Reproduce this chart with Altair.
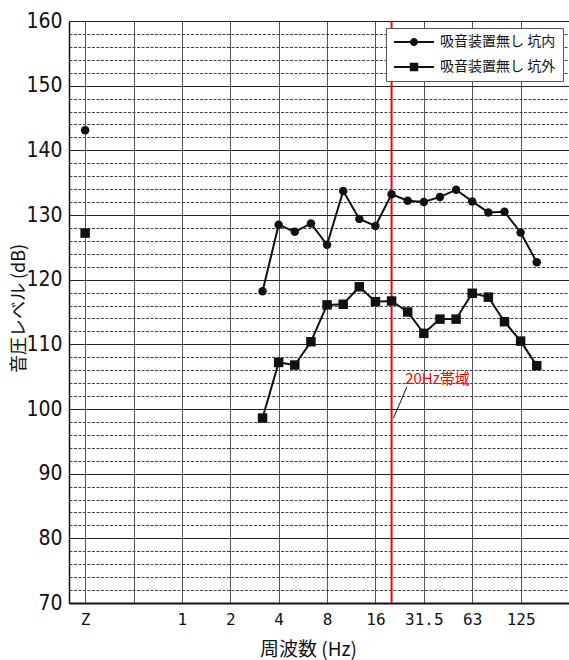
import math
import altair as alt
import pandas as pd

# ---------------- data ----------------
series_names = ["吸音装置無し 坑内", "吸音装置無し 坑外"]
bands = ["3.15", "4", "5", "6.3", "8", "10", "12.5", "16", "20", "25",
         "31.5", "40", "50", "63", "80", "100", "125", "160"]
inner = [118.2, 128.5, 127.4, 128.7, 125.4, 133.7, 129.4, 128.3, 133.2, 132.2,
         132.0, 132.8, 133.9, 132.1, 130.4, 130.5, 127.3, 122.7]
outer = [98.6, 107.2, 106.8, 110.4, 116.1, 116.2, 118.9, 116.6, 116.7, 115.0,
         111.7, 113.9, 113.9, 117.9, 117.3, 113.5, 110.5, 106.7]
z_values = [143.1, 127.2]          # Z (flat) weighted levels: inner, outer
tick_labels = ["Z", "", "1", "2", "4", "8", "16", "31.5", "63", "125"]
annotation_text = "20Hz帯域"


def band_pos(label):
    # third-octave band index relative to 1 Hz
    return round(3 * math.log2(float(label)))


Z_POS = -6
tick_pos = [Z_POS + 3 * i for i in range(len(tick_labels))]

rows = []
for name, zv, vals in zip(series_names, z_values, [inner, outer]):
    rows.append({"series": name, "pos": Z_POS, "value": zv, "seg": "z"})
    for b, v in zip(bands, vals):
        rows.append({"series": name, "pos": band_pos(b), "value": v, "seg": "main"})
df = pd.DataFrame(rows)

red_df = pd.DataFrame({"pos": [band_pos("20")]})
leader_df = pd.DataFrame({"pos": [13.11], "value": [98.55], "pos2": [13.95], "value2": [103.43]})
text_df = pd.DataFrame({"pos": [13.84], "value": [104.6], "label": [annotation_text]})

# ---------------- styles ----------------
JP = "Noto Sans CJK JP"
INK = "#111111"
is10 = "datum.value % 10 == 0"

label_js = "[" + ",".join("'" + t + "'" for t in tick_labels) + "]"

x_axis = alt.Axis(
    values=tick_pos,
    labelExpr=f"{label_js}[round((datum.value - ({Z_POS})) / 3)]",
    title="周波数 (Hz)",
    grid=True, gridColor="#555555", gridWidth=1,
    ticks=False,
    labelFont="DejaVu Sans Mono", labelFontSize=16, labelPadding=8,
    labelColor=INK, labelOverlap=False, labelFlush=False,
    domainColor=INK, domainWidth=2,
    titleFont=JP, titleFontSize=19, titleFontWeight="normal", titleColor=INK,
    titleX=239, titleY=46, titleAlign="center", titleBaseline="middle",
)
y_axis = alt.Axis(
    values=list(range(70, 161, 2)),
    labelExpr=f"{is10} ? datum.label : ''",
    title="音圧レベル (dB)",
    grid=True,
    gridDash={"condition": {"test": is10, "value": []}, "value": [3, 1.5]},
    gridColor={"condition": {"test": is10, "value": "#222222"}, "value": "#444444"},
    gridWidth=1,
    ticks=False,
    labelFont="Liberation Sans Narrow, DejaVu Sans Condensed, Liberation Sans",
    labelFontSize=21, labelPadding=7, labelColor=INK,
    labelOverlap=False, labelFlush=False,
    domainColor=INK, domainWidth=1.5,
    titleFont=JP, titleFontSize=18, titleFontWeight="normal", titleColor=INK,
    titleAngle=-90, titleX=-50, titleY=287, titleAlign="center", titleBaseline="middle",
)

X = alt.X("pos:Q", scale=alt.Scale(domain=[-7, 24], nice=False, zero=False), axis=x_axis)
Y = alt.Y("value:Q", scale=alt.Scale(domain=[70, 160], nice=False, zero=False), axis=y_axis)

base = alt.Chart(df)

red_line = alt.Chart(red_df).mark_rule(color="#ff0000", strokeWidth=2).encode(x=X)

leader = alt.Chart(leader_df).mark_rule(color=INK, strokeWidth=1).encode(
    x=X, y=Y, x2="pos2:Q", y2="value2:Q")

label = alt.Chart(text_df).mark_text(
    align="left", baseline="middle", color="#ff0000", font=JP, fontSize=15
).encode(x=X, y=Y, text="label:N")

lines = base.transform_filter("datum.seg == 'main'").mark_line(
    color=INK, strokeWidth=2).encode(x=X, y=Y, detail="series:N")

circles = base.transform_filter(alt.datum.series == series_names[0]).mark_point(
    shape="circle", filled=True, size=72, color=INK, opacity=1).encode(x=X, y=Y)

squares = base.transform_filter(alt.datum.series == series_names[1]).mark_point(
    shape="square", filled=True, size=90, color=INK, opacity=1).encode(x=X, y=Y)

circle_sym = "M-4,-0.2H4V0.2H-4Z M0.8,0A0.8,0.8,0,1,1,-0.8,0A0.8,0.8,0,1,1,0.8,0Z"
square_sym = "M-4,-0.2H4V0.2H-4Z M-0.85,-0.85H0.85V0.85H-0.85Z"

legend_layer = base.transform_filter("false").mark_point(
    filled=True, color=INK, opacity=1
).encode(
    shape=alt.Shape(
        "series:N",
        scale=alt.Scale(domain=series_names, range=[circle_sym, square_sym]),
        legend=alt.Legend(
            title=None, orient="none", legendX=317, legendY=7,
            padding=7, fillColor="white", strokeColor="#555555",
            rowPadding=11, symbolSize=100, symbolOffset=14, labelOffset=19,
            labelFont=JP, labelFontSize=14, labelColor=INK, labelLimit=300,
            symbolFillColor=INK, symbolStrokeWidth=0, symbolOpacity=1,
        ),
    )
)

chart = alt.layer(
    red_line, leader, label, lines, circles, squares, legend_layer
).properties(
    width=500, height=582,
    autosize=alt.AutoSizeParams(type="none"),
    padding={"left": 69, "top": 21, "right": 0, "bottom": 57},
    background="white",
).configure_view(stroke=None)

chart.save("out.html", embed_options={"renderer": "svg", "actions": False})
